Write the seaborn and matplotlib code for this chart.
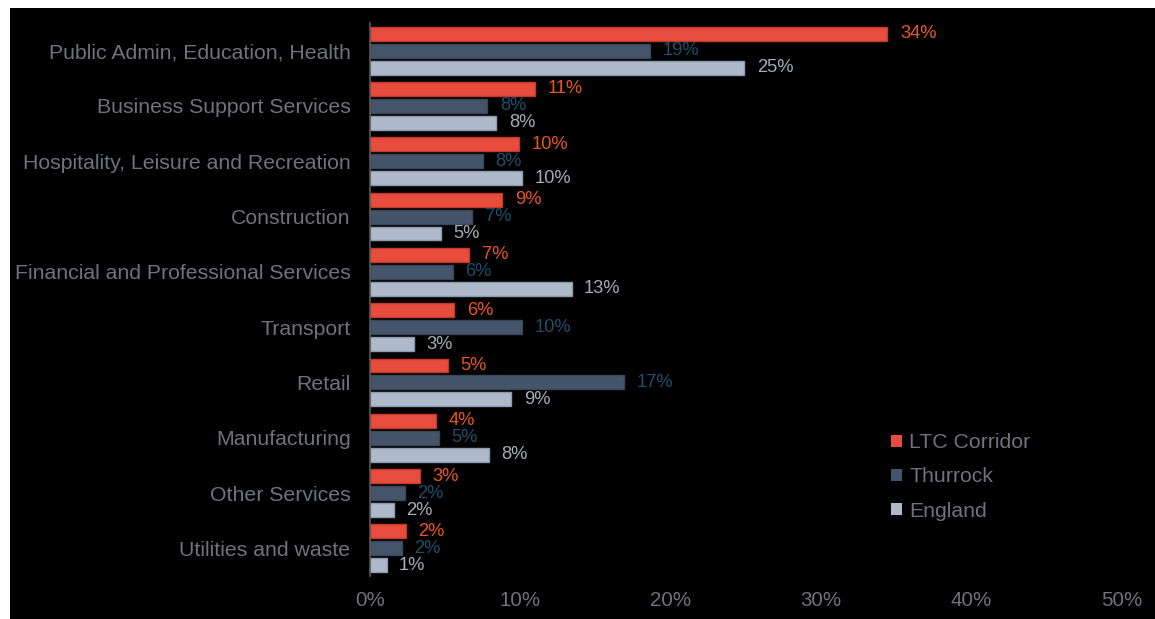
import matplotlib
matplotlib.use("Agg")
import matplotlib.pyplot as plt
import seaborn as sns
import pandas as pd
from matplotlib.patches import Rectangle

categories = [
    "Public Admin, Education, Health",
    "Business Support Services",
    "Hospitality, Leisure and Recreation",
    "Construction",
    "Financial and Professional Services",
    "Transport",
    "Retail",
    "Manufacturing",
    "Other Services",
    "Utilities and waste",
]
series = ["LTC Corridor", "Thurrock", "England"]
ltc = [34.4, 11.0, 9.9, 8.8, 6.6, 5.6, 5.2, 4.4, 3.3, 2.4]
thurrock = [18.6, 7.8, 7.5, 6.8, 5.5, 10.1, 16.9, 4.6, 2.3, 2.1]
england = [24.9, 8.4, 10.1, 4.7, 13.4, 2.9, 9.4, 7.9, 1.6, 1.1]
xticks = [0, 10, 20, 30, 40, 50]

bar_colors = ["#E84C3D", "#44546A", "#AEBAC9"]
edge_colors = ["#C0392B", "#3A4656", "#8C9AAE"]
label_colors = ["#E8561E", "#1F4E6B", "#A5ACB4"]
text_gray = "#6E7379"

df = pd.DataFrame({
    "category": categories * 3,
    "series": [s for s in series for _ in categories],
    "value": ltc + thurrock + england,
})

sns.set_theme(style="white")
plt.rcParams["font.family"] = ["Liberation Sans", "DejaVu Sans"]

fig = plt.figure(figsize=(11.55, 6.19), dpi=100, facecolor="white")
fig.patches.append(Rectangle((10 / 1155, 0), 1, 1 - 8 / 619, transform=fig.transFigure,
                             facecolor="black", edgecolor="none", zorder=-10))
ax = fig.add_axes([370 / 1155, 1 - 576 / 619, (1122 - 370) / 1155, (576 - 23) / 619])
ax.set_facecolor("black")
ax.patch.set_alpha(0)

sns.barplot(data=df, y="category", x="value", hue="series", order=categories,
            hue_order=series, palette=bar_colors, orient="h", width=0.92, gap=0.18,
            ax=ax, legend=True, saturation=1)

for i, cont in enumerate(ax.containers):
    for p in cont:
        p.set_edgecolor(edge_colors[i])
        p.set_linewidth(1)
    ax.bar_label(cont, labels=[f"{v:.0f}%" for v in cont.datavalues], padding=9,
                 color=label_colors[i], fontsize=13.2)

ax.set_xlim(0, 50)
ax.set_ylim(9.5, -0.5)
ax.set_xticks(xticks)
ax.set_xticklabels([f"{t}%" for t in xticks])
ax.set_xlabel("")
ax.set_ylabel("")
ax.tick_params(axis="x", length=0, pad=11, labelsize=14.8, labelcolor=text_gray)
ax.tick_params(axis="y", length=0, pad=14, labelsize=15.3, labelcolor=text_gray)
for s in ["top", "right", "bottom"]:
    ax.spines[s].set_visible(False)
ax.spines["left"].set_color("#595959")
ax.spines["left"].set_linewidth(1.2)
ax.grid(False)

handles, labels = ax.get_legend_handles_labels()
leg = ax.legend(handles, labels, loc="upper left", bbox_to_anchor=(872 / 1155, 1 - 414 / 619),
                bbox_transform=fig.transFigure, frameon=False, fontsize=15.3,
                handlelength=0.5, handleheight=0.5, handletextpad=0.35, labelspacing=0.72,
                labelcolor=text_gray)
for h in leg.legend_handles:
    h.set_edgecolor("none")

fig.savefig("out.png", dpi=100, facecolor="white")
